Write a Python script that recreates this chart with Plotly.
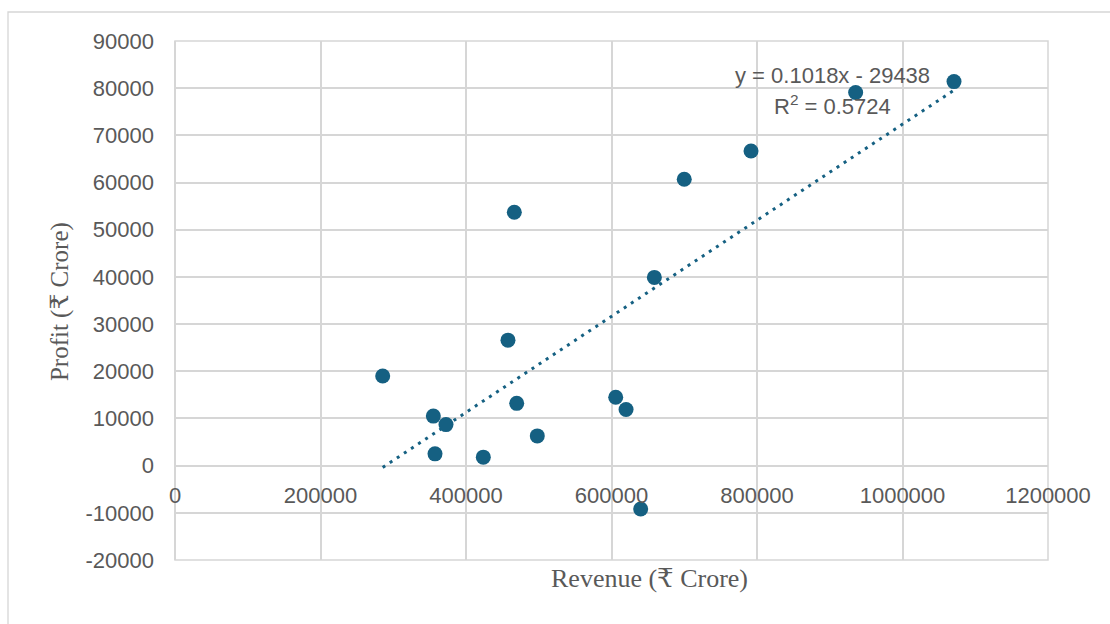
import plotly.graph_objects as go

# Revenue vs profit (₹ Crore)
revenue = [285500, 355100, 372500, 357400, 423800, 469700, 498000, 457700,
           466400, 658900, 605800, 620000, 700000, 791800, 935600, 1070800, 640100]
profit = [19000, 10500, 8700, 2500, 1800, 13200, 6300, 26600,
          53700, 39900, 14500, 11900, 60700, 66700, 79100, 81400, -9200]

# Linear trendline coefficients
slope = 0.1018
intercept = -29438
r_squared = 0.5724

x_ticks = [0, 200000, 400000, 600000, 800000, 1000000, 1200000]
y_ticks = [-20000, -10000, 0, 10000, 20000, 30000, 40000, 50000, 60000, 70000, 80000, 90000]

BLUE = "#156082"
GRID = "#D6D6D6"
TEXT = "#595959"
SANS = "Liberation Sans, Arial, sans-serif"
SERIF = "Liberation Serif, Times New Roman, DejaVu Serif, serif"

x_lo, x_hi = min(revenue), max(revenue)
trend_x = [x_lo, x_hi]
trend_y = [slope * v + intercept for v in trend_x]

fig = go.Figure()
fig.add_trace(go.Scatter(
    x=trend_x, y=trend_y, mode="lines",
    line=dict(color=BLUE, width=3, dash="3px,5.5px"),
    hoverinfo="skip", showlegend=False,
))
fig.add_trace(go.Scatter(
    x=revenue, y=profit, mode="markers",
    marker=dict(color=BLUE, size=15, line=dict(width=0)),
    showlegend=False,
))

y_min, y_max = -20000, 90000
fig.update_layout(
    width=1110, height=624,
    margin=dict(l=175, r=62, t=41, b=64),
    paper_bgcolor="white", plot_bgcolor="white",
    font=dict(family=SANS, size=22, color=TEXT),
    xaxis=dict(
        range=[0, 1200000], tickvals=x_ticks, ticktext=[str(v) for v in x_ticks],
        showgrid=True, gridcolor=GRID, gridwidth=1.5,
        zeroline=True, zerolinecolor=GRID, zerolinewidth=1.5,
        showline=False, ticks="", ticklabelstandoff=14,
        anchor="free", position=(0 - y_min) / (y_max - y_min),
        tickfont=dict(family=SANS, size=22, color=TEXT),
    ),
    yaxis=dict(
        range=[y_min, y_max], tickvals=y_ticks, ticktext=[str(v) for v in y_ticks],
        showgrid=True, gridcolor=GRID, gridwidth=1.5,
        zeroline=True, zerolinecolor=GRID, zerolinewidth=1.5,
        showline=False, ticks="", ticklabelstandoff=20,
        tickfont=dict(family=SANS, size=22, color=TEXT),
    ),
    shapes=[
        dict(type="rect", xref="paper", yref="paper",
             x0=-0.1913, x1=1.08, y0=-0.14, y1=1.0559,
             line=dict(color=GRID, width=1.3), fillcolor="rgba(0,0,0,0)", layer="below"),
        dict(type="rect", xref="paper", yref="paper",
             x0=0, x1=1, y0=0, y1=1,
             line=dict(color=GRID, width=1.5), fillcolor="rgba(0,0,0,0)", layer="below"),
    ],
    annotations=[
        dict(text="Revenue (₹ Crore)", xref="paper", yref="paper",
             x=0.544, y=-0.0347, xanchor="center", yanchor="middle", showarrow=False,
             font=dict(family=SERIF, size=26, color=TEXT)),
        dict(text="Profit (₹ Crore)", xref="paper", yref="paper",
             x=-0.1317, y=0.497, xanchor="center", yanchor="middle", showarrow=False,
             textangle=-90, font=dict(family=SERIF, size=25, color=TEXT)),
        dict(text=f"y = {slope}x - {abs(intercept)}", x=903100, y=82794,
             xanchor="center", yanchor="middle", showarrow=False,
             font=dict(family=SANS, size=22, color=TEXT)),
        dict(text=f"R<sup>2</sup> = {r_squared}", x=903100, y=76435,
             xanchor="center", yanchor="middle", showarrow=False,
             font=dict(family=SANS, size=22, color=TEXT)),
    ],
)

fig.write_html("out.html")
